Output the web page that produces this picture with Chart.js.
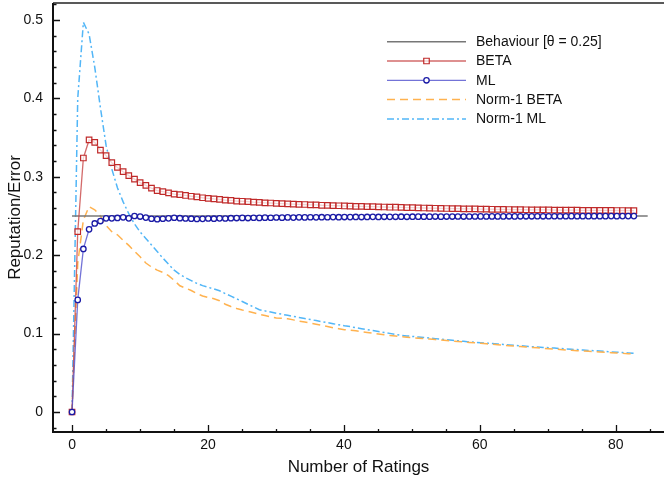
<!DOCTYPE html>
<html>
<head>
<meta charset="utf-8">
<script src="https://cdn.jsdelivr.net/npm/chart.js@4.4.1/dist/chart.umd.min.js"></script>
<style>
  body { margin: 0; background: #fff; }
  #wrap { width: 664px; height: 479px; }
</style>
</head>
<body>
<div id="wrap"><canvas id="chart"></canvas></div>
<script>
// number of ratings at each sample
var ratings = [
  0, 0.84, 1.67, 2.51, 3.34, 4.18, 5.01, 5.85, 6.68, 7.52,
  8.35, 9.19, 10.02, 10.86, 11.69, 12.53, 13.36, 14.2, 15.03, 15.87,
  16.7, 17.54, 18.37, 19.21, 20.04, 20.88, 21.71, 22.55, 23.38, 24.22,
  25.05, 25.89, 26.72, 27.56, 28.39, 29.23, 30.06, 30.9, 31.73, 32.57,
  33.4, 34.24, 35.07, 35.91, 36.74, 37.58, 38.41, 39.25, 40.08, 40.92,
  41.75, 42.59, 43.42, 44.26, 45.09, 45.93, 46.76, 47.6, 48.43, 49.27,
  50.1, 50.94, 51.77, 52.61, 53.44, 54.28, 55.11, 55.95, 56.78, 57.62,
  58.45, 59.29, 60.12, 60.96, 61.79, 62.63, 63.46, 64.3, 65.13, 65.97,
  66.8, 67.64, 68.47, 69.31, 70.14, 70.98, 71.81, 72.65, 73.48, 74.32,
  75.15, 75.99, 76.82, 77.66, 78.49, 79.33, 80.16, 81, 81.83, 82.67
];

var beta = [
  0, 0.23, 0.324, 0.347, 0.344, 0.334, 0.327, 0.318, 0.312, 0.3065,
  0.3015, 0.297, 0.2925, 0.289, 0.2855, 0.2825, 0.281, 0.2795, 0.278, 0.2772,
  0.2762, 0.2752, 0.2745, 0.2733, 0.2726, 0.2718, 0.2712, 0.2703, 0.2699, 0.2691,
  0.2688, 0.2683, 0.2676, 0.2674, 0.2668, 0.2666, 0.2661, 0.2659, 0.2654, 0.2652,
  0.2648, 0.2647, 0.2642, 0.2641, 0.2637, 0.2636, 0.2632, 0.2631, 0.2628, 0.2627,
  0.2624, 0.2623, 0.2619, 0.2619, 0.2616, 0.2615, 0.2612, 0.2612, 0.2609, 0.2607,
  0.2606, 0.2604, 0.2602, 0.2601, 0.2599, 0.2598, 0.2596, 0.2595, 0.2594, 0.2592,
  0.2591, 0.259, 0.2588, 0.2587, 0.2586, 0.2585, 0.2584, 0.2583, 0.2582, 0.2581,
  0.258, 0.2579, 0.2578, 0.2578, 0.2577, 0.2576, 0.2576, 0.2575, 0.2574, 0.2574,
  0.2573, 0.2573, 0.2572, 0.2572, 0.2571, 0.2571, 0.257, 0.257, 0.2569, 0.2569
];

var ml = [
  0, 0.143, 0.208, 0.233, 0.2405, 0.2436, 0.247, 0.247, 0.2475, 0.2483,
  0.247, 0.25, 0.2493, 0.248, 0.2465, 0.246, 0.2465, 0.247, 0.2478, 0.2472,
  0.2468, 0.2466, 0.2462, 0.2464, 0.2468, 0.2466, 0.247, 0.2468, 0.2472, 0.2474,
  0.2476, 0.2474, 0.2478, 0.2476, 0.2479, 0.2478, 0.2481, 0.2479, 0.2482, 0.248,
  0.2483, 0.2482, 0.2484, 0.2483, 0.2485, 0.2484, 0.2486, 0.2485, 0.2487, 0.2486,
  0.2488, 0.2487, 0.2488, 0.2489, 0.2488, 0.249, 0.2489, 0.249, 0.2491, 0.249,
  0.2491, 0.2492, 0.2491, 0.2492, 0.2493, 0.2492, 0.2493, 0.2493, 0.2494, 0.2493,
  0.2494, 0.2494, 0.2495, 0.2494, 0.2495, 0.2495, 0.2495, 0.2496, 0.2495, 0.2496,
  0.2496, 0.2496, 0.2497, 0.2496, 0.2497, 0.2497, 0.2497, 0.2497, 0.2498, 0.2497,
  0.2498, 0.2498, 0.2498, 0.2498, 0.2498, 0.2499, 0.2498, 0.2499, 0.2499, 0.2499
];

var normBeta = [
  0, 0.19, 0.245, 0.262, 0.258, 0.25, 0.238, 0.23, 0.226, 0.219,
  0.2125, 0.205, 0.198, 0.19, 0.185, 0.181, 0.178, 0.174, 0.168, 0.161,
  0.158, 0.155, 0.151, 0.148, 0.146, 0.1445, 0.142, 0.1375, 0.1345, 0.132,
  0.13, 0.1285, 0.1265, 0.1245, 0.123, 0.1215, 0.12, 0.1195, 0.119, 0.1175,
  0.116, 0.1148, 0.1135, 0.112, 0.1105, 0.109, 0.1075, 0.1062, 0.105, 0.1043,
  0.1035, 0.1025, 0.1015, 0.1005, 0.0995, 0.0985, 0.0977, 0.0968, 0.096, 0.0955,
  0.0948, 0.0942, 0.0936, 0.093, 0.0924, 0.0918, 0.0912, 0.0906, 0.09, 0.0894,
  0.0888, 0.0882, 0.0876, 0.087, 0.0864, 0.0858, 0.0852, 0.0846, 0.0841, 0.0835,
  0.083, 0.0824, 0.0819, 0.0813, 0.0808, 0.0802, 0.0797, 0.0791, 0.0787, 0.0782,
  0.0778, 0.0774, 0.077, 0.0765, 0.0761, 0.0757, 0.0753, 0.0748, 0.0744, 0.074
];

var normMl = [
  0, 0.40, 0.497, 0.482, 0.44, 0.388, 0.34, 0.31, 0.286, 0.268,
  0.253, 0.24, 0.2296, 0.2214, 0.213, 0.2047, 0.1964, 0.1886, 0.1809, 0.1755,
  0.1712, 0.1676, 0.164, 0.1612, 0.159, 0.1571, 0.1546, 0.151, 0.1478, 0.1444,
  0.141, 0.1374, 0.134, 0.1305, 0.129, 0.1275, 0.126, 0.1247, 0.1233, 0.122,
  0.1206, 0.1193, 0.118, 0.1166, 0.1153, 0.114, 0.1126, 0.1113, 0.11, 0.109,
  0.1075, 0.1063, 0.1051, 0.1039, 0.1027, 0.1015, 0.1003, 0.099, 0.0978, 0.0971,
  0.0964, 0.0957, 0.095, 0.0943, 0.0936, 0.0929, 0.0922, 0.0915, 0.0908, 0.0901,
  0.0894, 0.0889, 0.0884, 0.0878, 0.0873, 0.0867, 0.0862, 0.0856, 0.0851, 0.0845,
  0.084, 0.0834, 0.0829, 0.0824, 0.082, 0.0815, 0.081, 0.0805, 0.08, 0.0796,
  0.0791, 0.0786, 0.0782, 0.0777, 0.0772, 0.0767, 0.0762, 0.0758, 0.0753, 0.0748
];

var behaviourX = [0, 84.7];
var behaviourY = [0.25, 0.25];

var xTicks = [0, 20, 40, 60, 80];
var yTicks = [0, 0.1, 0.2, 0.3, 0.4, 0.5];

var FONT = "'Liberation Sans', Arial, Helvetica, sans-serif";

function pts(xs, ys) {
  return ys.map(function (y, i) { return { x: xs[i], y: y }; });
}

// inward ticks, axis lines and the top frame line
var frame = {
  id: 'frame',
  afterDraw: function (chart) {
    var ctx = chart.ctx, a = chart.chartArea;
    var sx = chart.scales.x, sy = chart.scales.y;
    ctx.save();
    ctx.strokeStyle = '#111';
    ctx.lineWidth = 1.3;
    ctx.beginPath();
    for (var v = 0; v <= 85; v += 5) {
      var px = Math.round(sx.getPixelForValue(v)) + 0.5;
      var len = v % 20 === 0 ? 7 : 3;
      ctx.moveTo(px, a.bottom);
      ctx.lineTo(px, a.bottom - len);
    }
    for (var k = -1; k <= 26; k++) {
      var py = Math.round(sy.getPixelForValue(k * 0.02)) + 0.5;
      var len2 = k % 5 === 0 ? 7 : 3.5;
      ctx.moveTo(a.left, py);
      ctx.lineTo(a.left + len2, py);
    }
    ctx.stroke();
    ctx.lineWidth = 2;
    ctx.beginPath();
    ctx.moveTo(a.left, a.top);
    ctx.lineTo(a.left, a.bottom);
    ctx.lineTo(a.right, a.bottom);
    ctx.stroke();
    ctx.lineWidth = 1.5;
    ctx.strokeStyle = '#222';
    ctx.beginPath();
    ctx.moveTo(a.left, a.top);
    ctx.lineTo(a.right, a.top);
    ctx.stroke();
    ctx.restore();
  }
};

// legend drawn from the dataset styles
var legendBox = {
  id: 'legendBox',
  afterDraw: function (chart) {
    var ctx = chart.ctx;
    var x0 = 387, x1 = 466, tx = 476, y0 = 41.7, step = 19.3;
    ctx.save();
    chart.data.datasets.forEach(function (ds, i) {
      var y = y0 + i * step;
      ctx.strokeStyle = ds.borderColor;
      ctx.lineWidth = ds.borderWidth;
      ctx.setLineDash(ds.borderDash || []);
      ctx.beginPath();
      ctx.moveTo(x0, y);
      ctx.lineTo(x1, y);
      ctx.stroke();
      ctx.setLineDash([]);
      if (ds.pointRadius > 0) {
        var mx = (x0 + x1) / 2;
        ctx.fillStyle = ds.pointBackgroundColor;
        ctx.strokeStyle = ds.pointBorderColor;
        ctx.lineWidth = ds.pointBorderWidth;
        ctx.beginPath();
        if (ds.pointStyle === 'rect') {
          var s = ds.pointRadius * Math.SQRT1_2;
          ctx.rect(mx - s, y - s, 2 * s, 2 * s);
        } else {
          ctx.arc(mx, y, ds.pointRadius, 0, Math.PI * 2);
        }
        ctx.fill();
        ctx.stroke();
      }
      ctx.fillStyle = '#111';
      ctx.font = '14px ' + FONT;
      ctx.textBaseline = 'middle';
      ctx.textAlign = 'left';
      ctx.fillText(ds.label, tx, y + 0.5);
    });
    ctx.restore();
  }
};

new Chart(document.getElementById('chart'), {
  type: 'line',
  data: {
    datasets: [
      {
        label: 'Behaviour [\u03b8 = 0.25]',
        data: pts(behaviourX, behaviourY),
        borderColor: '#777777',
        borderWidth: 1.5,
        pointRadius: 0,
        order: 3
      },
      {
        label: 'BETA',
        data: pts(ratings, beta),
        borderColor: 'rgba(200,70,70,0.8)',
        borderWidth: 1.3,
        pointStyle: 'rect',
        pointRadius: 3.9,
        pointBorderColor: '#c02a2a',
        pointBackgroundColor: 'rgba(255,255,255,0.7)',
        pointBorderWidth: 1.2,
        order: 2
      },
      {
        label: 'ML',
        data: pts(ratings, ml),
        borderColor: 'rgba(80,80,205,0.8)',
        borderWidth: 1.3,
        pointStyle: 'circle',
        pointRadius: 2.7,
        pointBorderColor: '#1a1aa6',
        pointBackgroundColor: '#ffffff',
        pointBorderWidth: 1.3,
        order: 1
      },
      {
        label: 'Norm-1 BETA',
        data: pts(ratings, normBeta),
        borderColor: '#ffb24f',
        borderWidth: 1.5,
        borderDash: [8, 5],
        pointRadius: 0,
        order: 4
      },
      {
        label: 'Norm-1 ML',
        data: pts(ratings, normMl),
        borderColor: '#52b6f7',
        borderWidth: 1.5,
        borderDash: [7, 3, 2, 3],
        pointRadius: 0,
        order: 5
      }
    ]
  },
  options: {
    responsive: true,
    maintainAspectRatio: false,
    animation: false,
    layout: { autoPadding: false, padding: { top: 3, right: 0, left: 0, bottom: 0 } },
    plugins: { legend: { display: false }, tooltip: { enabled: false } },
    elements: { line: { tension: 0 } },
    scales: {
      x: {
        type: 'linear',
        min: -2.8,
        max: 87.1,
        grid: { display: false, drawTicks: false },
        border: { display: false },
        afterBuildTicks: function (s) { s.ticks = xTicks.map(function (v) { return { value: v }; }); },
        afterFit: function (s) { s.height = 47; s.paddingLeft = 0; s.paddingRight = 0; },
        ticks: {
          color: '#111',
          padding: 5,
          maxRotation: 0,
          font: { family: FONT, size: 14 },
          callback: function (v) { return String(v); }
        },
        title: {
          display: true,
          text: 'Number of Ratings',
          color: '#111',
          padding: { top: 0, bottom: 1 },
          font: { family: FONT, size: 17 }
        }
      },
      y: {
        type: 'linear',
        min: -0.0255,
        max: 0.5217,
        grid: { display: false, drawTicks: false },
        border: { display: false },
        afterBuildTicks: function (s) { s.ticks = yTicks.map(function (v) { return { value: v }; }); },
        afterFit: function (s) { s.width = 53; s.paddingTop = 0; s.paddingBottom = 0; },
        ticks: {
          color: '#111',
          padding: 10,
          font: { family: FONT, size: 14 },
          callback: function (v) { return v === 0 ? '0' : v.toFixed(1); }
        },
        title: {
          display: true,
          text: 'Reputation/Error',
          color: '#111',
          padding: { top: 5, bottom: 0 },
          font: { family: FONT, size: 17 }
        }
      }
    }
  },
  plugins: [frame, legendBox]
});
</script>
</body>
</html>
